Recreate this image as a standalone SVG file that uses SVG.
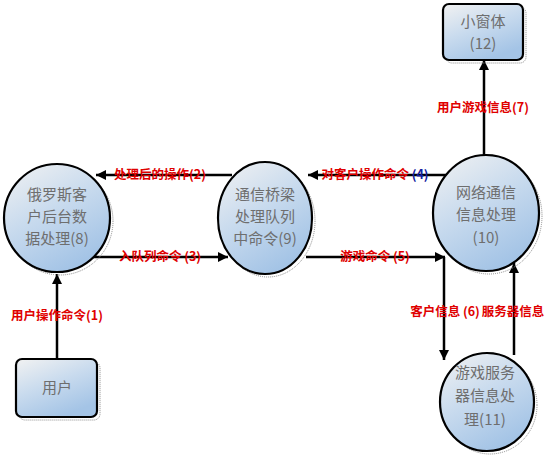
<svg xmlns="http://www.w3.org/2000/svg" width="550" height="456" viewBox="0 0 550 456">
<style>
.nd{stroke:#000;stroke-width:2.2;fill:url(#g)}
.sh{fill:none;stroke:#8a8a8a;stroke-width:1;stroke-dasharray:1 1}
.nt{font-family:"Noto Sans CJK SC","Liberation Serif",sans-serif;font-size:15px;fill:#6e6e6e;text-anchor:middle}
.ln{stroke:#000;stroke-width:2.5;fill:none;marker-end:url(#ah)}
.lb{font-family:"Noto Sans CJK SC","Liberation Sans",sans-serif;font-size:12.5px;font-weight:bold;fill:#e00000;text-anchor:middle}
</style>
<defs>
<linearGradient id="g" x1="0" y1="0" x2="0.55" y2="1">
<stop offset="0" stop-color="#f2f2f2"/>
<stop offset="0.5" stop-color="#c9dbee"/>
<stop offset="1" stop-color="#a4c4e6"/>
</linearGradient>
<marker id="ah" viewBox="0 0 10 10" refX="10" refY="5" markerWidth="4.4" markerHeight="4" orient="auto" markerUnits="strokeWidth">
<path d="M0,0 L10,5 L0,10 z" fill="#000"/>
</marker>
</defs>
<rect width="550" height="456" fill="#fff"/>
<g id="connectors">
<line class="ln" x1="57" y1="359" x2="57" y2="274"/>
<line class="ln" x1="232" y1="175" x2="96" y2="175"/>
<line class="ln" x1="93" y1="257" x2="228" y2="257"/>
<line class="ln" x1="449" y1="175" x2="308" y2="175"/>
<line class="ln" x1="306" y1="257" x2="445" y2="257"/>
<line class="ln" x1="444" y1="257" x2="444" y2="360"/>
<line class="ln" x1="514" y1="355" x2="514" y2="263"/>
<line class="ln" x1="484" y1="157" x2="484" y2="60"/>
<text class="lb" x="57" y="320">用户操作命令(1)</text>
<text class="lb" x="160" y="179">处理后的操作(2)</text>
<text class="lb" x="160" y="261">入队列命令 (3)</text>
<text class="lb" x="375" y="179">对客户操作命令 <tspan fill="#1020a0">(4)</tspan></text>
<text class="lb" x="375" y="261">游戏命令 (5)</text>
<text class="lb" x="445" y="316">客户信息 (6)</text>
<text class="lb" x="513" y="316">服务器信息</text>
<text class="lb" x="483" y="112">用户游戏信息(7)</text>
</g>
<g id="n8">
<ellipse class="sh" cx="60" cy="221" rx="53" ry="54"/>
<ellipse class="nd" cx="57" cy="218" rx="53" ry="54"/>
<text class="nt" x="57" y="200">俄罗斯客</text>
<text class="nt" x="57" y="222">户后台数</text>
<text class="nt" x="57" y="244">据处理(8)</text>
</g>
<g id="n9">
<ellipse class="sh" cx="268" cy="221" rx="47" ry="56"/>
<ellipse class="nd" cx="265" cy="218" rx="47" ry="56"/>
<text class="nt" x="265" y="200">通信桥梁</text>
<text class="nt" x="265" y="222">处理队列</text>
<text class="nt" x="265" y="244">中命令(9)</text>
</g>
<g id="n10">
<ellipse class="sh" cx="489" cy="216" rx="53" ry="58"/>
<ellipse class="nd" cx="486" cy="213" rx="53" ry="58"/>
<text class="nt" x="486" y="198">网络通信</text>
<text class="nt" x="486" y="220">信息处理</text>
<text class="nt" x="486" y="243">(10)</text>
</g>
<g id="n11">
<ellipse class="sh" cx="490" cy="405" rx="47" ry="49"/>
<ellipse class="nd" cx="487" cy="402" rx="47" ry="49"/>
<text class="nt" x="485" y="378">游戏服务</text>
<text class="nt" x="485" y="401">器信息处</text>
<text class="nt" x="485" y="425">理(11)</text>
</g>
<g id="n12">
<rect class="sh" x="446" y="7" width="80" height="56" rx="6"/>
<rect class="nd" x="443" y="4" width="80" height="56" rx="6"/>
<text class="nt" x="483" y="27">小窗体</text>
<text class="nt" x="483" y="49">(12)</text>
</g>
<g id="user">
<rect class="sh" x="19" y="362" width="81" height="58" rx="6"/>
<rect class="nd" x="16" y="359" width="81" height="58" rx="6"/>
<text class="nt" x="57" y="393">用户</text>
</g>
</svg>
